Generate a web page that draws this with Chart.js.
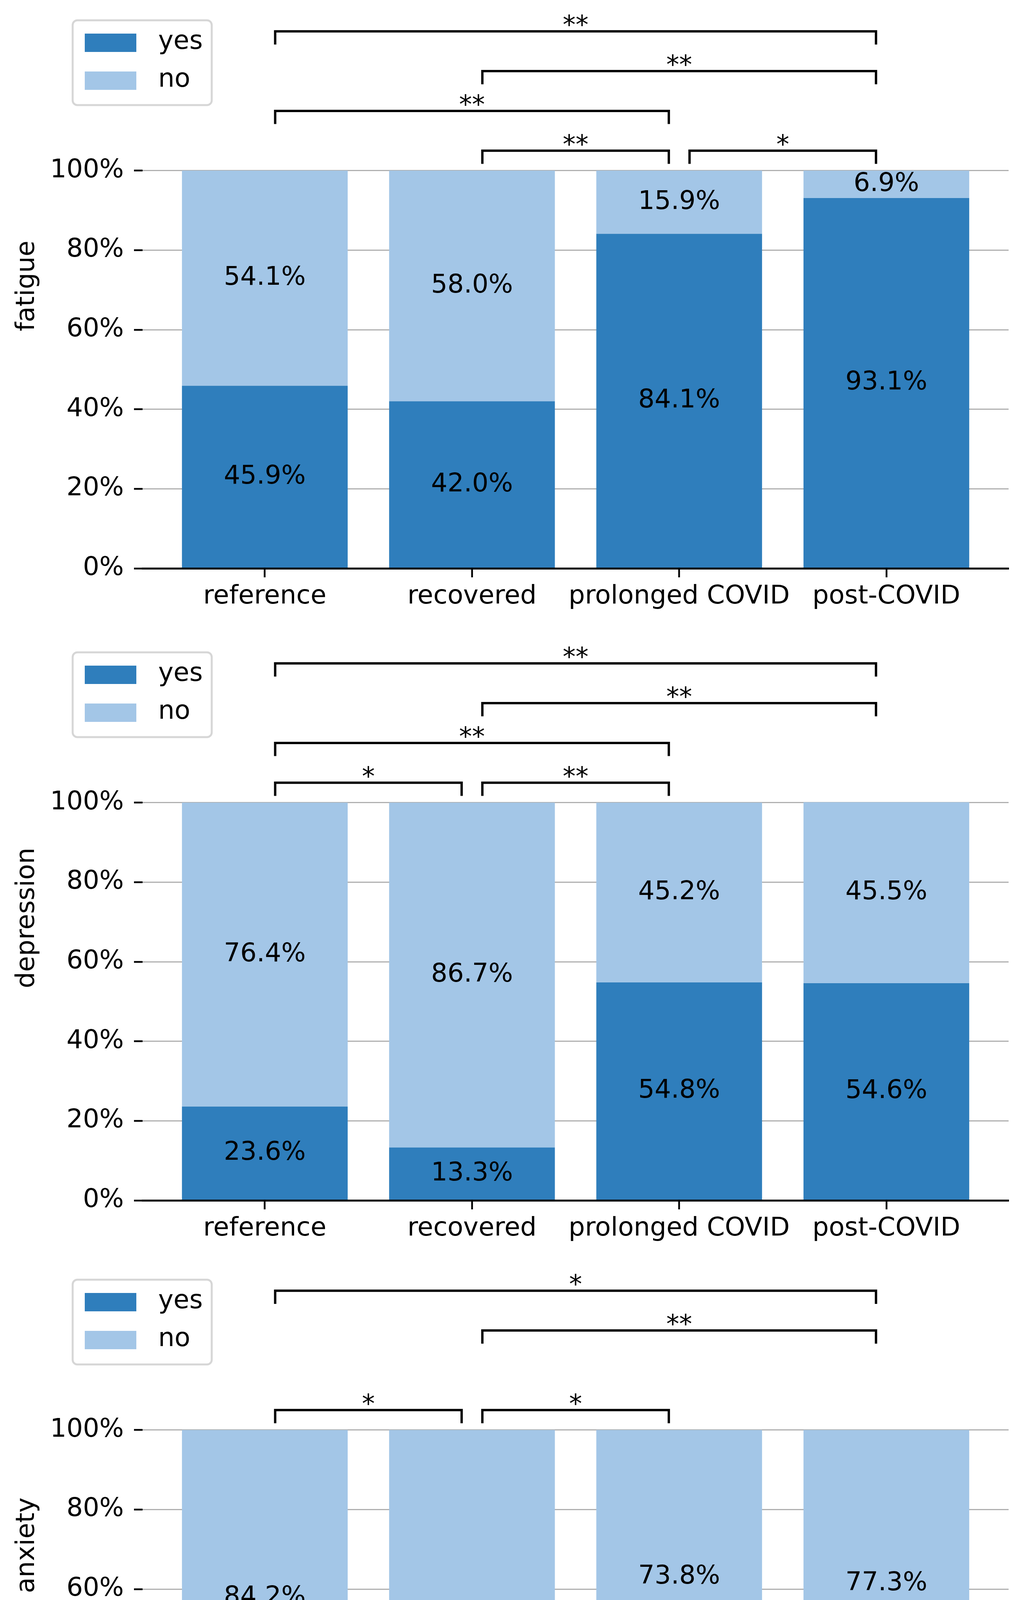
<!DOCTYPE html>
<html>
<head>
<meta charset="utf-8">
<script src="https://cdn.jsdelivr.net/npm/chart.js@4.4.1/dist/chart.umd.min.js"></script>
<style>
  html, body { margin: 0; padding: 0; background: #fff; overflow: hidden; }
  #wrap { position: relative; width: 2624px; height: 4824px; }
  canvas { position: absolute; left: 0; }
  #c0 { top: 0; }
  #c1 { top: 1618px; }
  #c2 { top: 3224px; }
</style>
</head>
<body>
<div id="wrap">
  <canvas id="c0" width="2624" height="1600"></canvas>
  <canvas id="c1" width="2624" height="1600"></canvas>
  <canvas id="c2" width="2624" height="1600"></canvas>
</div>
<script>
// ---------------------------------------------------------------------------
// data
// ---------------------------------------------------------------------------
const groups = ['reference', 'recovered', 'prolonged COVID', 'post-COVID'];
const seriesNames = ['yes', 'no'];
const yTicks = [0, 20, 40, 60, 80, 100];

const fatigueYes = [45.9, 42.0, 84.1, 93.1];
const fatigueNo = [54.1, 58.0, 15.9, 6.9];
const depressionYes = [23.6, 13.3, 54.8, 54.6];
const depressionNo = [76.4, 86.7, 45.2, 45.5];
const anxietyYes = [15.8, 7.2, 26.2, 22.7];
const anxietyNo = [84.2, 92.8, 73.8, 77.3];

// significance brackets: [from group, to group, stars, level]
const fatigueBrackets = [[0, 3, '**', 3], [1, 3, '**', 2], [0, 2, '**', 1], [1, 2, '**', 0], [2, 3, '*', 0]];
const depressionBrackets = [[0, 3, '**', 3], [1, 3, '**', 2], [0, 2, '**', 1], [0, 1, '*', 0], [1, 2, '**', 0]];
const anxietyBrackets = [[0, 3, '*', 3], [1, 3, '**', 2], [0, 1, '*', 0], [1, 2, '*', 0]];

const YES_COLOR = '#2f7ebc';
const NO_COLOR = '#a3c6e7';
const FONT_SIZE = 66;

// bracket geometry, in percent units
const BRACKET_BASE = 105;
const BRACKET_STEP = 10;
const BRACKET_TIP = 3.3;

Chart.defaults.font.family = "'DejaVu Sans', sans-serif";
Chart.defaults.font.size = FONT_SIZE;
Chart.defaults.color = '#000';

// labels inside the bars, brackets with stars, boxed legend
const annotatePlugin = {
  id: 'annotate',
  afterDatasetsDraw(chart) {
    const ctx = chart.ctx;
    ctx.save();
    ctx.font = FONT_SIZE + "px 'DejaVu Sans'";
    ctx.fillStyle = '#000';
    ctx.textAlign = 'center';
    ctx.textBaseline = 'middle';
    chart.data.datasets.forEach((ds, di) => {
      const meta = chart.getDatasetMeta(di);
      meta.data.forEach((bar, i) => {
        const v = ds.data[i].y;
        ctx.fillText(v.toFixed(1) + '%', bar.x, (bar.y + bar.base) / 2);
      });
    });
    ctx.restore();
  },
  afterDraw(chart, args, opts) {
    const ctx = chart.ctx;
    const xs = chart.scales.x;
    const ys = chart.scales.y;
    ctx.save();

    // brackets
    ctx.strokeStyle = '#000';
    ctx.fillStyle = '#000';
    ctx.lineWidth = 6;
    ctx.lineJoin = 'miter';
    ctx.lineCap = 'butt';
    ctx.font = FONT_SIZE + "px 'DejaVu Sans'";
    ctx.textAlign = 'center';
    ctx.textBaseline = 'alphabetic';
    (opts.brackets || []).forEach(([a, b, stars, level]) => {
      const yv = BRACKET_BASE + BRACKET_STEP * level;
      const x1 = xs.getPixelForValue(a + 0.05);
      const x2 = xs.getPixelForValue(b - 0.05);
      const y = ys.getPixelForValue(yv);
      const yt = ys.getPixelForValue(yv - BRACKET_TIP);
      ctx.beginPath();
      ctx.moveTo(x1, yt);
      ctx.lineTo(x1, y);
      ctx.lineTo(x2, y);
      ctx.lineTo(x2, yt);
      ctx.stroke();
      ctx.fillText(stars, (x1 + x2) / 2, y + 6);
    });

    // legend box, top left
    const lx = 186, ly = 52, lw = 356, lh = 217;
    ctx.beginPath();
    ctx.roundRect(lx, ly, lw, lh, 12);
    ctx.fillStyle = 'rgba(255,255,255,0.8)';
    ctx.fill();
    ctx.strokeStyle = '#d6d6d6';
    ctx.lineWidth = 5;
    ctx.stroke();
    ctx.textAlign = 'left';
    ctx.textBaseline = 'middle';
    chart.data.datasets.forEach((ds, i) => {
      const py = ly + 34 + 97 * i;
      ctx.fillStyle = ds.backgroundColor;
      ctx.fillRect(lx + 31, py, 132, 47);
      ctx.fillStyle = '#000';
      ctx.fillText(ds.label, lx + 219, py + 22);
    });
    ctx.restore();
  }
};

function makeChart(id, title, yes, no, brackets) {
  const values = [yes, no];
  const colors = [YES_COLOR, NO_COLOR];
  return new Chart(document.getElementById(id), {
    type: 'bar',
    data: {
      datasets: seriesNames.map((name, s) => ({
        label: name,
        data: values[s].map((v, i) => ({ x: i, y: v })),
        backgroundColor: colors[s],
        borderWidth: 0,
        barPercentage: 0.8,
        categoryPercentage: 1.0
      }))
    },
    options: {
      responsive: false,
      animation: false,
      layout: { padding: { top: 9, right: 42, left: 0, bottom: 0 } },
      plugins: {
        legend: { display: false },
        tooltip: { enabled: false },
        annotate: { brackets: brackets }
      },
      scales: {
        x: {
          type: 'linear',
          min: -0.59,
          max: 3.59,
          stacked: true,
          offset: false,
          afterBuildTicks: s => { s.ticks = groups.map((g, i) => ({ value: i })); },
          afterFit: s => {
            s.height = 145;
            s.paddingLeft = 0;
            s.paddingRight = 0;
          },
          ticks: {
            callback: v => groups[v],
            padding: 10,
            maxRotation: 0,
            autoSkip: false,
            font: { size: FONT_SIZE }
          },
          grid: {
            offset: false,
            drawOnChartArea: false,
            drawTicks: true,
            tickLength: 23,
            tickColor: '#000',
            tickWidth: 4.5
          },
          border: { display: true, color: '#000', width: 5, z: 1 }
        },
        y: {
          min: 0,
          max: 142,
          stacked: true,
          afterBuildTicks: s => { s.ticks = yTicks.map(v => ({ value: v })); },
          afterFit: s => {
            s.width = 365;
            s.paddingTop = 0;
            s.paddingBottom = 0;
          },
          ticks: {
            callback: v => v + '%',
            padding: 26,
            font: { size: FONT_SIZE }
          },
          grid: {
            color: c => (c.tick && c.tick.value === 0) ? 'rgba(0,0,0,0)' : '#b0b0b0',
            lineWidth: 3,
            tickLength: 22,
            tickColor: '#000',
            tickWidth: 4.5
          },
          border: { display: false },
          title: {
            display: true,
            text: title,
            font: { size: FONT_SIZE },
            padding: { top: 30, bottom: 0 }
          }
        }
      }
    },
    plugins: [annotatePlugin]
  });
}

makeChart('c0', 'fatigue', fatigueYes, fatigueNo, fatigueBrackets);
makeChart('c1', 'depression', depressionYes, depressionNo, depressionBrackets);
makeChart('c2', 'anxiety', anxietyYes, anxietyNo, anxietyBrackets);
</script>
</body>
</html>
